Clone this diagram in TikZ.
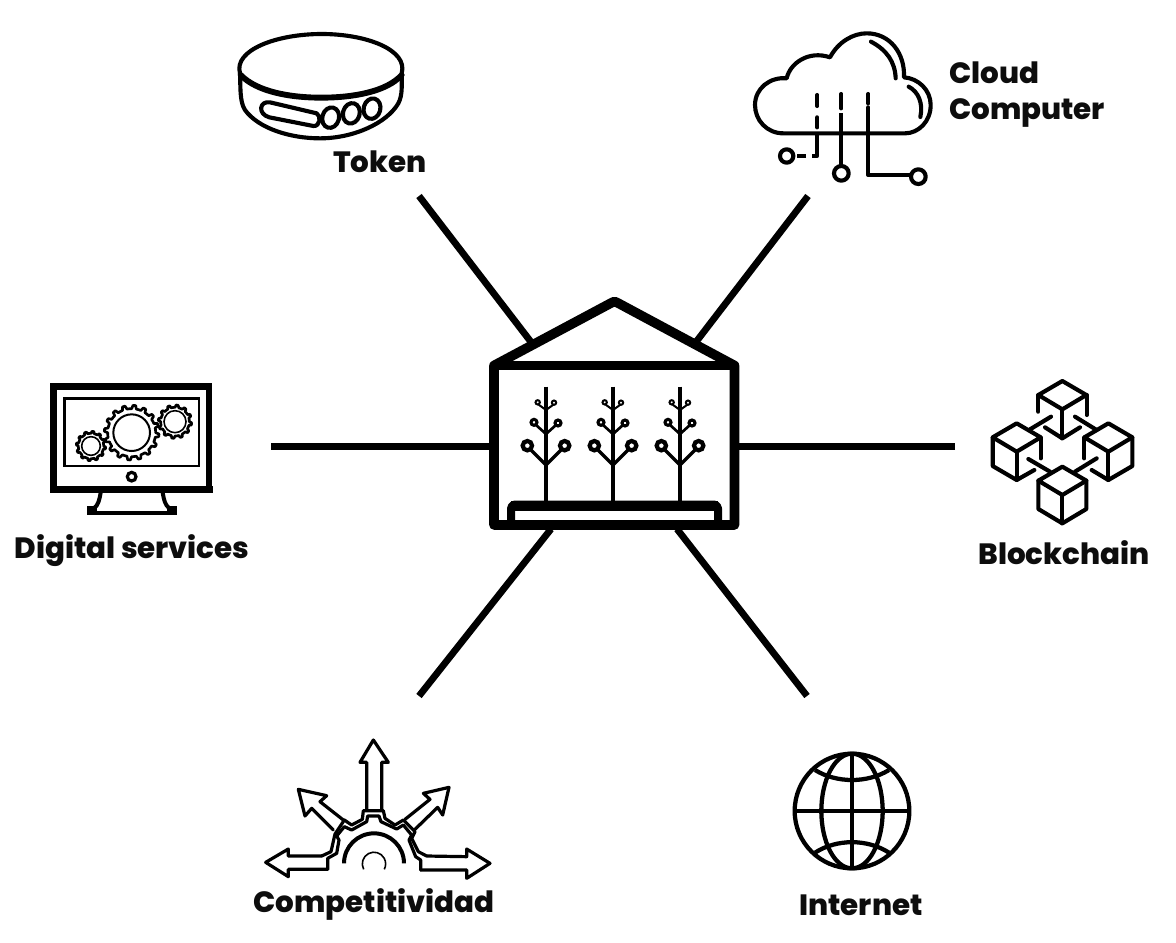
\documentclass[tikz,border=0pt]{standalone}
\usepackage{fontspec}
\newfontfamily\labfont{Poppins ExtraBold}
\newcommand{\gearicon}[5]{%
  \draw[gearline] plot[domain=0:360,samples=#5*8+1,variable=\t] ({#1+(#3+(#4-#3)*(sin(#5*\t)>0))*cos(\t)},{#2+(#3+(#4-#3)*(sin(#5*\t)>0))*sin(\t)}) -- cycle;
}
\tikzset{
  link/.style={line width=5.1pt,line cap=butt,black},
  lab/.style={font=\labfont\fontsize{22}{27}\selectfont,text=black!95,inner sep=0pt,align=left},
  zoomed/.style={x=.25pt,y=-.25pt},
  ink/.style={line width=3.1pt,line cap=round,line join=round,black},
  thinink/.style={line width=2.4pt,line cap=round,line join=round,black},
  gearline/.style={line width=2pt,line join=round,black,fill=white},
  wall/.style={line width=7.2pt,line join=round,black},
  globeline/.style={line width=3.2pt,black},
}
\begin{document}
\begin{tikzpicture}[x=.75pt,y=-.75pt]
\path[use as bounding box] (0,0) rectangle (1176,942);
% hub and free ends
\node[minimum width=180pt,minimum height=172pt,inner sep=0pt] (hub) at (614.5,413) {};
\coordinate (tokenEnd) at (419,196);
\coordinate (tokenHub) at (531,342);
\coordinate (cloudEnd) at (808,196);
\coordinate (cloudHub) at (696,342);
\coordinate (digitalEnd) at (271,446.5);
\coordinate (digitalHub) at (491,446.5);
\coordinate (chainEnd) at (955,446.5);
\coordinate (chainHub) at (738,446.5);
\coordinate (compEnd) at (419,696);
\coordinate (compHub) at (551,529);
\coordinate (netEnd) at (807,696);
\coordinate (netHub) at (677,529);
\draw[link] (tokenEnd) -- (tokenHub);
\draw[link] (cloudEnd) -- (cloudHub);
\draw[link] (digitalEnd) -- (digitalHub);
\draw[link] (chainEnd) -- (chainHub);
\draw[link] (compEnd) -- (compHub);
\draw[link] (netEnd) -- (netHub);
% greenhouse
\draw[wall] (494,365.5) -- (612,302.5) -- (614.5,301.5) -- (617,302.5) -- (734.5,365.5) -- (734.5,525) -- (494,525) -- cycle;
\draw[wall] (494,365.5) -- (734.5,365.5);
\draw[wall,line width=6pt,rounded corners=3pt] (511,525) -- (511,504.5) -- (718,504.5) -- (718,525);
\fill[black] (511,500.5) rectangle (718,511);
\foreach \sx in {546,613,680}{
  \begin{scope}[shift={(\sx,280)},x=.25pt,y=-.25pt]
    \draw[line width=2.6pt] (0,320) -- (0,662);
    \draw[line width=2.6pt] (-50,505) -- (0,555) -- (50,505);
    \draw[line width=2pt] (-30,435) -- (0,462) -- (30,435);
    \draw[line width=1.5pt] (-22,374) -- (0,390) -- (22,374);
    \draw[line width=3.2pt,fill=white] (-56,497) circle (14) (56,497) circle (14);
    \draw[line width=2.3pt,fill=white] (-36,427) circle (9) (36,429) circle (9);
    \draw[line width=1.5pt,fill=white] (-25,367) circle (6.5) (24,368) circle (6.5);
  \end{scope}
}
% token
\begin{scope}[shift={(220,30)},zoomed]
  \draw[ink] (60,130) .. controls (40,60) and (170,12) .. (305,12) .. controls (440,12) and (565,60) .. (545,130);
  \draw[ink,line width=4.4pt] (62,135) .. controls (110,185) and (210,203) .. (303,203) .. controls (400,203) and (500,185) .. (545,135);
  \draw[ink] (60,130) .. controls (62,165) and (58,215) .. (75,240) .. controls (115,295) and (210,325) .. (300,325) .. controls (400,325) and (500,280) .. (535,220) .. controls (548,195) and (545,165) .. (545,135);
  \draw[ink] (150,217) -- (290,250) .. controls (305,258) and (300,290) .. (280,288) -- (148,262) .. controls (112,252) and (118,212) .. (150,217) -- cycle;
  \draw[ink,rotate around={-15:(332,263)}] (332,263) ellipse (25 and 31);
  \draw[ink,rotate around={-15:(394,250)}] (394,250) ellipse (25 and 31);
  \draw[ink,rotate around={-15:(456,236)}] (456,236) ellipse (25 and 31);
\end{scope}
\node[lab] (tokenLabel) at (380,162) {Token};
% cloud
\begin{scope}[shift={(740,20)},zoomed]
  \draw[ink] (130,340) .. controls (80,340) and (45,300) .. (45,255) .. controls (45,205) and (90,170) .. (140,175) .. controls (150,130) and (205,90) .. (270,112) .. controls (295,65) and (340,40) .. (380,40) .. controls (450,40) and (495,100) .. (492,172) .. controls (535,175) and (572,210) .. (572,255) .. controls (572,305) and (535,340) .. (495,340) -- cycle;
  \draw[ink] (393,65) .. controls (440,90) and (465,125) .. (467,175);
  \draw[ink] (506,200) .. controls (535,215) and (550,250) .. (541,291);
  \draw[ink] (232,225) -- (232,258);
  \draw[ink] (232,292) -- (232,322);
  \draw[ink,line cap=butt] (232,345) -- (232,407) -- (215,407);
  \draw[ink,line cap=butt] (198,407) -- (172,407);
  \draw[ink] (140,408) circle (20);
  \draw[ink] (304,222) -- (304,265);
  \draw[ink,line cap=butt] (304,280) -- (304,438);
  \draw[ink] (304,460) circle (22);
  \draw[ink] (385,222) -- (385,250);
  \draw[ink] (385,262) -- (385,465) -- (513,465);
  \draw[ink] (535,470) circle (22);
\end{scope}
\node[lab,anchor=west] (cloudLabel) at (949,95) {Cloud\\Computer};
% monitor
\begin{scope}[shift={(30,370)},zoomed]
  \draw[line width=5.2pt,line join=miter] (71,50) rectangle (537,357);
  \fill (60,347) rectangle (548,368);
  \draw[line width=2.2pt] (103,85) rectangle (507,288);
  \draw[line width=2.4pt] (305,320) circle (13);
  \gearicon{183}{228}{38}{44}{12}
  \gearicon{435}{155}{43}{50}{12}
  \gearicon{305}{188}{72}{82}{16}
  \draw[line width=1.2pt] (183,228) circle (28);
  \draw[line width=1.2pt] (435,155) circle (33);
  \draw[line width=1.5pt] (305,188) circle (55);
  \draw[line width=3pt] (212,368) .. controls (208,390) and (205,405) .. (192,415);
  \draw[line width=3pt] (398,368) .. controls (402,390) and (405,405) .. (418,415);
  \fill (172,408) rectangle (200,436);
  \fill (410,408) rectangle (440,436);
  \fill (172,423) rectangle (440,436);
\end{scope}
\node[lab] (digitalLabel) at (132,550.5) {Digital services};
% blockchain
\begin{scope}[shift={(975,370)},zoomed]
  \foreach \cx/\cy in {262/33,125/160,400/160,262/290}{
    \begin{scope}[shift={(\cx,\cy)},zoomed]
      \draw[ink] (0,0) -- (-72,42) -- (0,85) -- (72,42) -- cycle;
    \end{scope}
  }
  % top cube
  \draw[ink] (190,75) -- (190,125);
  \draw[ink] (335,75) -- (335,135);
  \draw[ink] (262,118) -- (262,205);
  \draw[ink] (210,172) -- (262,205) -- (315,172);
  % left cube
  \draw[ink] (197,203) -- (197,265);
  \draw[ink] (125,245) -- (125,330);
  \draw[ink] (53,203) -- (53,288) -- (125,330) -- (178,300);
  % right cube
  \draw[ink] (328,203) -- (328,265);
  \draw[ink] (400,245) -- (400,330);
  \draw[ink] (472,203) -- (472,288) -- (400,330) -- (350,300);
  % bottom cube
  \draw[ink] (262,375) -- (262,460);
  \draw[ink] (190,332) -- (190,417) -- (262,460) -- (334,417) -- (334,332);
  % links
  \draw[ink] (228,140) -- (165,178);
  \draw[ink] (300,140) -- (365,180);
  \draw[ink] (160,267) -- (225,305);
  \draw[ink] (365,265) -- (300,305);
\end{scope}
\node[lab] (chainLabel) at (1064,553) {Blockchain};
% competitiveness
\begin{scope}[shift={(255,730)},zoomed]
  \draw[thinink] (335,240) -- (335,97) -- (315,97) -- (355,30) -- (400,97) -- (380,97) -- (380,240);
  \draw[thinink] (265,270) -- (195,215) -- (215,197) -- (130,178) -- (150,258) -- (170,235) -- (235,300);
  \draw[thinink] (450,268) -- (525,208) -- (505,190) -- (582,172) -- (563,255) -- (548,232) -- (480,298);
  \draw[thinink] (200,378) -- (100,378) -- (100,357) -- (32,397) -- (100,440) -- (100,418) -- (218,418);
  \draw[thinink] (515,378) -- (635,380) -- (635,357) -- (705,400) -- (635,445) -- (635,420) -- (497,420);
  \draw[thinink] (200,378) -- (228,365) -- (240,312) -- (268,270) -- (290,285) -- (322,268) -- (325,242) -- (385,242) -- (390,265) -- (420,285) -- (445,270) -- (480,305) -- (470,325) -- (490,365) -- (515,378);
  \draw[thinink] (218,418) -- (218,385) -- (245,370) -- (252,330) -- (245,318) -- (268,290) -- (290,300) -- (335,275) -- (338,258) -- (372,258) -- (378,275) -- (425,297) -- (445,285) -- (470,315) -- (462,330) -- (482,380) -- (497,390) -- (497,420);
  \draw[line width=3pt] (267,400) arc[start angle=180,end angle=360,radius=90];
  \draw[line width=1.2pt] (326,418) arc[start angle=152,end angle=388,radius=35];
\end{scope}
\node[lab] (compLabel) at (374,904) {Competitividad};
% globe
\begin{scope}[shift={(780,740)},zoomed]
  \draw[globeline] (216,213) circle (172);
  \draw[globeline] (216,213) ellipse (92 and 172);
  \draw[globeline] (216,41) -- (216,385);
  \draw[globeline] (44,213) -- (388,213);
  \draw[globeline] (105,90) .. controls (170,130) and (262,130) .. (327,90);
  \draw[globeline] (105,338) .. controls (170,296) and (262,296) .. (327,338);
\end{scope}
\node[lab] (netLabel) at (861,905) {Internet};
\end{tikzpicture}
\end{document}
